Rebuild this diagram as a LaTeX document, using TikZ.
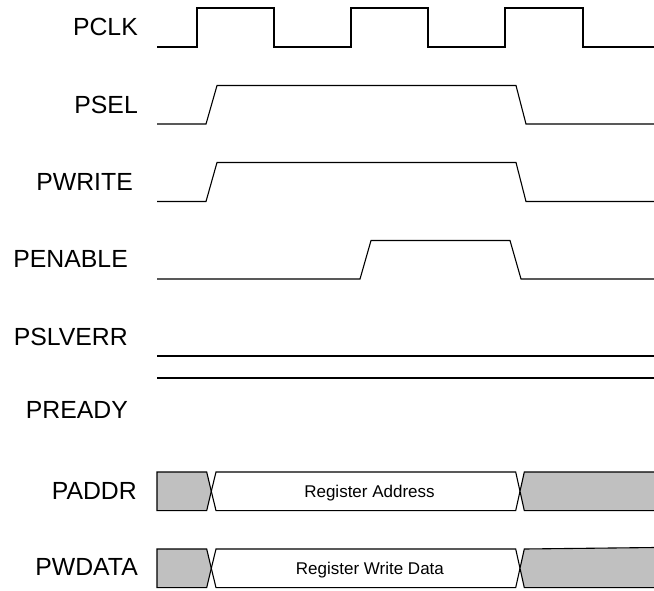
\documentclass[tikz,border=0pt]{standalone}
\usepackage{fontspec}
\setmainfont{Liberation Sans}
\definecolor{busgray}{RGB}{192,192,192}
\begin{document}
\begin{tikzpicture}[x=1pt,y=-1pt,
  wave/.style={line width=1.1pt, line join=miter},
  sig/.style={font=\fontsize{24.8}{28}\selectfont, anchor=base east, inner sep=0pt},
  bustext/.style={font=\fontsize{17}{20}\selectfont, anchor=base, inner sep=0pt}]
\useasboundingbox (0,0) rectangle (654,590);

% signal names
\node[sig] (lclk)  at (138,35.6)  {PCLK};
\node[sig] (lsel)  at (138,113.9) {PSEL};
\node[sig] (lwr)   at (133,190.6) {PWRITE};
\node[sig] (len)   at (128,267.2) {PENABLE};
\node[sig] (lerr)  at (128,345.6) {PSLVERR};
\node[sig] (lrdy)  at (128,418.9) {PREADY};
\node[sig] (laddr) at (137,499.9) {PADDR};
\node[sig] (ldata) at (138,575.9) {PWDATA};

% clock
\draw[wave] (157,47) -- (197,47) -- (197,8) -- (274,8) -- (274,47)
  -- (351,47) -- (351,8) -- (428,8) -- (428,47)
  -- (505,47) -- (505,8) -- (583,8) -- (583,47) -- (654,47);

% control signals
\draw[wave] (157,124) -- (206,124) -- (217,85.5) -- (516,85.5) -- (526,124) -- (654,124);
\draw[wave] (157,201.5) -- (206,201.5) -- (217,162.5) -- (516,162.5) -- (526,201.5) -- (654,201.5);
\draw[wave] (157,279) -- (360,279) -- (371,240.5) -- (510,240.5) -- (521,279) -- (654,279);
\draw[wave] (157,356) -- (654,356);
\draw[wave] (157,378) -- (654,378);

% address bus
\draw[wave, fill=busgray] (157,472) -- (206.7,472) -- (211.3,491.3) -- (206.7,510.6) -- (157,510.6) -- cycle;
\draw[wave, fill=white] (216,472) -- (515.7,472) -- (520,491.3) -- (515.7,510.6) -- (216,510.6) -- (211.3,491.3) -- cycle;
\fill[busgray] (524.3,472) -- (655,472) -- (655,510.6) -- (524.3,510.6) -- (520,491.3) -- cycle;
\draw[wave] (655,472) -- (524.3,472) -- (520,491.3) -- (524.3,510.6) -- (655,510.6);
\node[bustext] (addr) at (369.5,497.8) {Register Address};

% write data bus
\draw[wave, fill=busgray] (157,549) -- (206.7,549) -- (211.3,568.3) -- (206.7,587.6) -- (157,587.6) -- cycle;
\draw[wave, fill=white] (216,549) -- (515.7,549) -- (520,568.3) -- (515.7,587.6) -- (216,587.6) -- (211.3,568.3) -- cycle;
\fill[busgray] (524.3,549) -- (655,547.5) -- (655,587.6) -- (524.3,587.6) -- (520,568.3) -- cycle;
\draw[wave] (655,547.5) -- (524.3,549) -- (520,568.3) -- (524.3,587.6) -- (655,587.6);
\node[bustext] (wdata) at (369.9,574.4) {Register Write Data};
\end{tikzpicture}
\end{document}
